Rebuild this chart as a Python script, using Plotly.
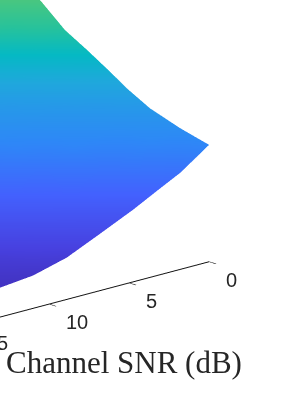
import plotly.graph_objects as go

snr_db = [0, 1.8, 3.25, 4.75, 6.8, 8.9, 11, 13, 17, 25]
y_levels = [300, 271, 241, 218, 201, 178, 156, 133, 90, 40]
z_rows = [
    [117, 96.7, 84.8, 72.2, 57, 41.8, 32.8, 29.5, 20, 8],
    [124.3, 118.5, 106.1, 91.2, 74.2, 58.4, 43.1, 34, 25.4, 11.5],
    [134.3, 126.7, 121.4, 115.7, 93.7, 76.3, 60.2, 45.6, 30.5, 15],
    [146.7, 134.3, 128.1, 122.3, 112.8, 91.2, 73.7, 58.7, 34.6, 17.7],
    [158, 143.5, 133.8, 127.4, 120.1, 104.3, 84.9, 68.6, 40.4, 19.7],
    [172.3, 158.1, 146, 135.6, 126.4, 119.2, 101, 83.3, 52.5, 23.2],
    [185, 171.7, 160.4, 147.7, 133.7, 124.8, 117.9, 97.8, 65.1, 27.8],
    [205.3, 185.1, 174.4, 162.6, 145.9, 132.5, 123.7, 117.3, 79.4, 31.3],
    [240, 221.5, 206.5, 189.8, 173, 156.4, 140, 129.4, 111, 44.4],
    [280, 261.7, 246.9, 231.5, 210.4, 187.4, 170.9, 155, 128.9, 73.4],
]
snr_ticks = [0, 5, 10, 15, 20, 25]
snr_tick_labels = ["0", "5", "10", "15", "20", "25"]
axis_title = "Channel SNR (dB)"
parula = [
    [0.0, "#3e26a8"], [0.1, "#4741e0"], [0.2, "#4361fe"], [0.3, "#2e87f7"],
    [0.4, "#1fa8dc"], [0.45, "#05b9c4"], [0.5, "#27c29c"], [0.6, "#60ca6c"],
    [0.7, "#a8c73c"], [0.8, "#e3bb2c"], [0.9, "#fcd030"], [1.0, "#f9fb14"],
]

fig = go.Figure(go.Surface(
    x=snr_db, y=y_levels, z=z_rows,
    colorscale=parula, cmin=12, cmax=360, showscale=False,
    lighting=dict(ambient=1, diffuse=0, specular=0, roughness=1, fresnel=0),
    contours=dict(x=dict(highlight=False), y=dict(highlight=False), z=dict(highlight=False)),
    hoverinfo="skip",
))
hidden = dict(showgrid=False, showbackground=False, showline=False, showticklabels=False,
              zeroline=False, showspikes=False, ticks="", title="")
cx, cy, cz = -0.904, 1.010, -0.474
k = 6
fig.update_layout(
    width=284, height=420, margin=dict(l=0, r=0, t=0, b=0),
    paper_bgcolor="white",
    scene=dict(
        domain=dict(x=[0, 1], y=[0, 1]),
        aspectmode="manual", aspectratio=dict(x=2.564, y=2.137, z=1.592),
        xaxis=dict(range=[0, 25], tickvals=snr_ticks, showgrid=False, showbackground=False,
                   showline=True, linecolor="#111111", linewidth=2, zeroline=False,
                   showspikes=False, ticks="outside", ticklen=17, tickcolor="#111111", tickwidth=2,
                   showticklabels=False, title=""),
        yaxis=dict(range=[0, 300], **hidden),
        zaxis=dict(range=[0, 320], **hidden),
        camera=dict(
            projection=dict(type="orthographic"),
            eye=dict(x=cx + 0.329 * k, y=cy + 0.365 * k, z=cz + 0.151 * k),
            center=dict(x=cx, y=cy, z=cz),
            up=dict(x=0, y=0, z=1),
        ),
        annotations=[dict(x=v, y=300, z=0, text=t, showarrow=False,
                          xshift=22 if len(t) == 1 else 28, yshift=-18,
                          font=dict(family="Liberation Sans", size=20, color="#262626"))
                     for v, t in zip(snr_ticks, snr_tick_labels)],
    ),
    annotations=[dict(text=axis_title, x=123.5/284, y=1-362/420, xref="paper", yref="paper",
                      showarrow=False, xanchor="center", yanchor="middle",
                      font=dict(family="Liberation Serif", size=31, color="#262626"))],
)
fig.write_html("out.html", config=dict(displayModeBar=False),
               post_script="document.body.style.margin='0';")
